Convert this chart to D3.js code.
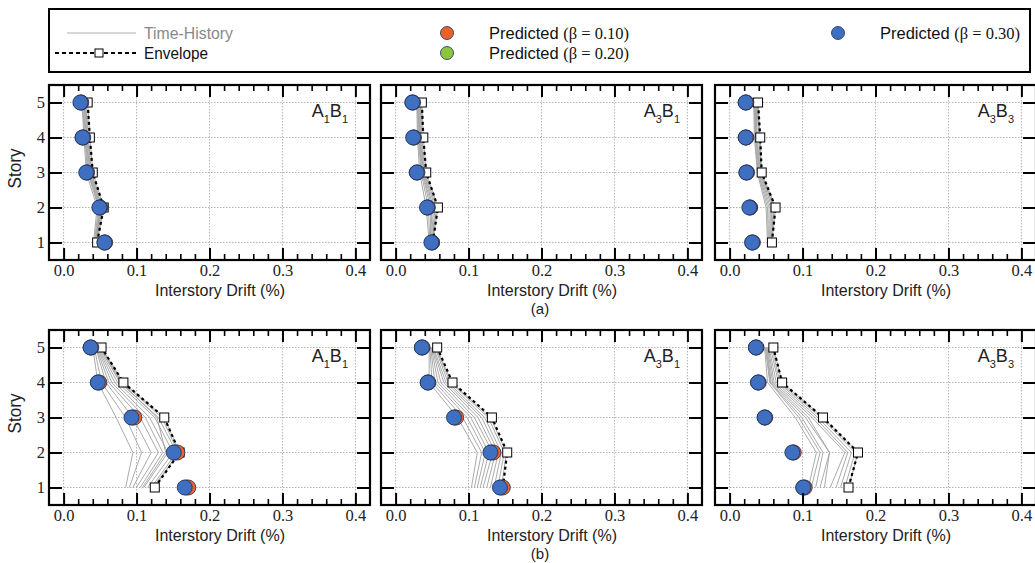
<!DOCTYPE html>
<html>
<head>
<meta charset="utf-8">
<script src="https://cdn.jsdelivr.net/npm/d3@7"></script>
<style>
  body { margin: 0; background: #fff; }
  svg { display: block; }
  .sans { font-family: "Liberation Sans", Arial, sans-serif; }
  .serif { font-family: "Liberation Serif", "Times New Roman", serif; }
</style>
</head>
<body>
<div id="chart"></div>
<script>
// story levels and axis ticks
var stories = [1, 2, 3, 4, 5]
var xTicks = [0.0, 0.1, 0.2, 0.3, 0.4]
var rowCaptions = ["(a)", "(b)"]
var panelLabels = [["A", "1", "B", "1"], ["A", "3", "B", "1"], ["A", "3", "B", "3"]]

// values per story (story 1 .. story 5)
// row (a)
var envA = [
  [0.046, 0.055, 0.040, 0.036, 0.033],
  [0.051, 0.058, 0.042, 0.038, 0.036],
  [0.058, 0.063, 0.044, 0.042, 0.039]
]
var pred10A = [
  [0.057, 0.050, 0.032, 0.027, 0.024],
  [0.050, 0.044, 0.030, 0.025, 0.024],
  [0.032, 0.028, 0.024, 0.023, 0.023]
]
var pred20A = [
  [0.056, 0.050, 0.032, 0.026, 0.024],
  [0.050, 0.044, 0.029, 0.025, 0.023],
  [0.031, 0.028, 0.023, 0.022, 0.022]
]
var pred30A = [
  [0.056, 0.049, 0.031, 0.026, 0.023],
  [0.049, 0.043, 0.029, 0.024, 0.023],
  [0.031, 0.027, 0.023, 0.022, 0.022]
]
var histA1 = [
  [0.041, 0.046, 0.031, 0.028, 0.025],
  [0.042, 0.048, 0.033, 0.029, 0.026],
  [0.043, 0.049, 0.034, 0.030, 0.027],
  [0.044, 0.050, 0.035, 0.031, 0.028],
  [0.044, 0.051, 0.036, 0.032, 0.029],
  [0.045, 0.052, 0.037, 0.033, 0.030],
  [0.045, 0.053, 0.038, 0.034, 0.031],
  [0.046, 0.055, 0.040, 0.036, 0.033]
]
var histA2 = [
  [0.046, 0.042, 0.033, 0.030, 0.029],
  [0.047, 0.045, 0.035, 0.031, 0.030],
  [0.048, 0.048, 0.036, 0.032, 0.031],
  [0.048, 0.050, 0.037, 0.033, 0.032],
  [0.049, 0.052, 0.038, 0.034, 0.033],
  [0.050, 0.054, 0.039, 0.035, 0.034],
  [0.050, 0.056, 0.040, 0.036, 0.035],
  [0.051, 0.058, 0.042, 0.038, 0.036]
]
var histA3 = [
  [0.052, 0.050, 0.038, 0.034, 0.033],
  [0.053, 0.052, 0.039, 0.035, 0.034],
  [0.054, 0.054, 0.040, 0.036, 0.035],
  [0.055, 0.056, 0.041, 0.037, 0.036],
  [0.056, 0.058, 0.042, 0.038, 0.036],
  [0.057, 0.060, 0.043, 0.040, 0.037],
  [0.057, 0.061, 0.043, 0.041, 0.038],
  [0.058, 0.063, 0.044, 0.042, 0.039]
]

// row (b)
var envB = [
  [0.125, 0.159, 0.138, 0.082, 0.052],
  [0.147, 0.153, 0.132, 0.078, 0.057],
  [0.163, 0.176, 0.128, 0.072, 0.060]
]
var pred10B = [
  [0.171, 0.156, 0.097, 0.049, 0.038],
  [0.147, 0.134, 0.083, 0.045, 0.037],
  [0.103, 0.088, 0.049, 0.040, 0.037]
]
var pred20B = [
  [0.168, 0.153, 0.094, 0.047, 0.037],
  [0.144, 0.131, 0.081, 0.044, 0.036],
  [0.101, 0.087, 0.048, 0.039, 0.036]
]
var pred30B = [
  [0.166, 0.151, 0.093, 0.047, 0.037],
  [0.143, 0.130, 0.080, 0.044, 0.036],
  [0.101, 0.086, 0.048, 0.039, 0.036]
]
var histB1 = [
  [0.085, 0.095, 0.072, 0.047, 0.040],
  [0.090, 0.107, 0.085, 0.052, 0.042],
  [0.095, 0.120, 0.095, 0.058, 0.044],
  [0.100, 0.130, 0.105, 0.062, 0.045],
  [0.105, 0.136, 0.112, 0.066, 0.046],
  [0.110, 0.143, 0.118, 0.070, 0.047],
  [0.115, 0.150, 0.125, 0.074, 0.048],
  [0.120, 0.155, 0.130, 0.077, 0.050],
  [0.125, 0.157, 0.135, 0.080, 0.051],
  [0.108, 0.140, 0.128, 0.079, 0.049],
  [0.122, 0.159, 0.138, 0.082, 0.052]
]
var histB2 = [
  [0.104, 0.112, 0.085, 0.046, 0.046],
  [0.108, 0.118, 0.092, 0.050, 0.047],
  [0.112, 0.123, 0.098, 0.054, 0.048],
  [0.116, 0.128, 0.103, 0.058, 0.049],
  [0.120, 0.133, 0.108, 0.062, 0.050],
  [0.125, 0.137, 0.113, 0.066, 0.051],
  [0.130, 0.141, 0.118, 0.069, 0.052],
  [0.135, 0.145, 0.122, 0.072, 0.054],
  [0.140, 0.149, 0.127, 0.075, 0.055],
  [0.145, 0.152, 0.130, 0.077, 0.056]
]
var histB3 = [
  [0.108, 0.119, 0.090, 0.052, 0.048],
  [0.112, 0.124, 0.095, 0.055, 0.049],
  [0.118, 0.128, 0.099, 0.056, 0.050],
  [0.124, 0.137, 0.104, 0.057, 0.051],
  [0.130, 0.137, 0.108, 0.059, 0.052],
  [0.138, 0.158, 0.113, 0.061, 0.053],
  [0.146, 0.162, 0.117, 0.064, 0.054],
  [0.152, 0.167, 0.121, 0.067, 0.056],
  [0.158, 0.172, 0.125, 0.069, 0.058],
  [0.163, 0.176, 0.128, 0.072, 0.060]
]

var rows = [
  { env: envA, p10: pred10A, p20: pred20A, p30: pred30A, hist: [histA1, histA2, histA3] },
  { env: envB, p10: pred10B, p20: pred20B, p30: pred30B, hist: [histB1, histB2, histB3] }
]

// colours
var colOrange = "#e8632b"
var colGreen = "#8cc63f"
var colBlue = "#3f6fc0"

// layout
var W = 1035, H = 563
var panelLeft = [49, 381, 715]
var panelW = 321
var rowTop = [85, 330]
var panelH = 175

var svg = d3.select("#chart").append("svg")
  .attr("width", W)
  .attr("height", H)

var x = d3.scaleLinear().domain([-0.02, 0.42]).range([0, panelW])
var y = d3.scaleLinear().domain([0.5, 5.5]).range([panelH, 0])
var minorTicks = d3.range(0, 0.41, 0.02).filter(function (t) { return Math.abs(t * 10 - Math.round(t * 10)) > 0.01 })

var line = d3.line()
  .x(function (d) { return x(d[1]) })
  .y(function (d) { return y(d[0]) })

function pairs(vals) {
  return stories.map(function (s, i) { return [s, vals[i]] })
}

rows.forEach(function (row, r) {
  panelLeft.forEach(function (px, c) {
    var g = svg.append("g").attr("transform", "translate(" + px + "," + rowTop[r] + ")")

    // dotted grid
    g.selectAll(".gx").data(xTicks).enter().append("line")
      .attr("x1", function (d) { return x(d) }).attr("x2", function (d) { return x(d) })
      .attr("y1", 0).attr("y2", panelH)
      .attr("stroke", "#b5b5b5").attr("stroke-width", 1).attr("stroke-dasharray", "1.5,1.5")
    g.selectAll(".gy").data(stories).enter().append("line")
      .attr("y1", function (d) { return y(d) }).attr("y2", function (d) { return y(d) })
      .attr("x1", 0).attr("x2", panelW)
      .attr("stroke", "#b5b5b5").attr("stroke-width", 1).attr("stroke-dasharray", "1.5,1.5")

    // time-history records
    g.selectAll(".th").data(row.hist[c]).enter().append("path")
      .attr("d", function (d) { return line(pairs(d)) })
      .attr("fill", "none").attr("stroke", "#a0a0a0").attr("stroke-width", 0.9)

    // envelope
    g.append("path")
      .attr("d", line(pairs(row.env[c])))
      .attr("fill", "none").attr("stroke", "#000").attr("stroke-width", 2.2)
      .attr("stroke-dasharray", "3,3")
    g.selectAll(".sq").data(pairs(row.env[c])).enter().append("rect")
      .attr("x", function (d) { return x(d[1]) - 4.5 })
      .attr("y", function (d) { return y(d[0]) - 4.5 })
      .attr("width", 9).attr("height", 9)
      .attr("fill", "#fff").attr("stroke", "#000").attr("stroke-width", 1)

    // predicted (green and orange sit under the blue markers)
    var preds = [[row.p20[c], colGreen], [row.p10[c], colOrange], [row.p30[c], colBlue]]
    preds.forEach(function (p) {
      g.selectAll(null).data(pairs(p[0])).enter().append("circle")
        .attr("cx", function (d) { return x(d[1]) })
        .attr("cy", function (d) { return y(d[0]) })
        .attr("r", 7.5)
        .attr("fill", p[1]).attr("stroke", "#1d2f55").attr("stroke-width", 0.8)
    })

    // ticks on all four sides, pointing inward
    var bottom = g.append("g").attr("transform", "translate(0," + panelH + ")")
      .call(d3.axisBottom(x).tickValues(xTicks).tickSize(-12).tickPadding(4).tickFormat(d3.format(".1f")))
    var bottomMinor = g.append("g").attr("transform", "translate(0," + panelH + ")")
      .call(d3.axisBottom(x).tickValues(minorTicks).tickSize(-6).tickFormat(""))
    var top = g.append("g").call(d3.axisTop(x).tickValues(xTicks).tickSize(-12).tickFormat(""))
    var topMinor = g.append("g").call(d3.axisTop(x).tickValues(minorTicks).tickSize(-6).tickFormat(""))
    var left = g.append("g")
      .call(d3.axisLeft(y).tickValues(stories).tickSize(-13).tickPadding(4).tickFormat(c === 0 ? d3.format("d") : ""))
    var right = g.append("g").attr("transform", "translate(" + panelW + ",0)")
      .call(d3.axisRight(y).tickValues(stories).tickSize(-13).tickFormat(""))

    ;[bottom, bottomMinor, top, topMinor, left, right].forEach(function (ax) {
      ax.select(".domain").remove()
      ax.selectAll(".tick line").attr("stroke", "#000").attr("stroke-width", 2)
      ax.selectAll(".tick text")
        .attr("class", "serif").attr("font-size", 16.5).attr("fill", "#222")
    })
    bottomMinor.selectAll(".tick line").attr("stroke-width", 1.6)
    topMinor.selectAll(".tick line").attr("stroke-width", 1.6)

    // frame
    g.append("rect")
      .attr("x", 0).attr("y", 0).attr("width", panelW).attr("height", panelH)
      .attr("fill", "none").attr("stroke", "#000").attr("stroke-width", 2.2)

    // panel label with subscripts
    var lab = g.append("text").attr("class", "sans")
      .attr("x", panelW - 22).attr("y", 32)
      .attr("text-anchor", "end").attr("font-size", 18).attr("fill", "#222")
    panelLabels[c].forEach(function (t, k) {
      var sub = k % 2 === 1
      lab.append("tspan")
        .attr("dy", sub ? 6 : (k === 0 ? 0 : -6))
        .attr("font-size", sub ? 11 : 18)
        .text(t)
    })

    // x axis title
    g.append("text").attr("class", "sans")
      .attr("x", 171).attr("y", panelH + 36)
      .attr("text-anchor", "middle").attr("font-size", 17).attr("fill", "#222")
      .attr("textLength", 130).attr("lengthAdjust", "spacingAndGlyphs")
      .text("Interstory Drift (%)")

    if (c === 0) {
      g.append("text").attr("class", "sans")
        .attr("transform", "translate(-28," + (panelH / 2 - 4) + ") rotate(-90)")
        .attr("text-anchor", "middle").attr("font-size", 17.5).attr("fill", "#222")
        .attr("textLength", 40).attr("lengthAdjust", "spacingAndGlyphs")
        .text("Story")
    }
  })

  svg.append("text").attr("class", "sans")
    .attr("x", 540).attr("y", rowTop[r] + panelH + 54)
    .attr("text-anchor", "middle").attr("font-size", 15).attr("fill", "#222")
    .text(rowCaptions[r])
})

// legend box
var leg = svg.append("g")
leg.append("rect")
  .attr("x", 49).attr("y", 9).attr("width", 981).attr("height", 63)
  .attr("fill", "#fff").attr("stroke", "#000").attr("stroke-width", 2)

leg.append("line").attr("x1", 67).attr("x2", 136).attr("y1", 33).attr("y2", 33)
  .attr("stroke", "#b0b0b0").attr("stroke-width", 1.2)
leg.append("text").attr("class", "sans").attr("x", 144).attr("y", 39)
  .attr("font-size", 16.5).attr("fill", "#888")
  .attr("textLength", 89).attr("lengthAdjust", "spacingAndGlyphs")
  .text("Time-History")

leg.append("line").attr("x1", 55).attr("x2", 136).attr("y1", 53).attr("y2", 53)
  .attr("stroke", "#000").attr("stroke-width", 2).attr("stroke-dasharray", "4,3")
leg.append("rect").attr("x", 95).attr("y", 49).attr("width", 8).attr("height", 8)
  .attr("fill", "#fff").attr("stroke", "#000").attr("stroke-width", 1)
leg.append("text").attr("class", "sans").attr("x", 144).attr("y", 59)
  .attr("font-size", 16.5).attr("fill", "#111")
  .attr("textLength", 64).attr("lengthAdjust", "spacingAndGlyphs")
  .text("Envelope")

var legPred = [
  { cx: 447, cy: 33, col: colOrange, beta: "0.10" },
  { cx: 447, cy: 53, col: colGreen, beta: "0.20" },
  { cx: 838, cy: 33, col: colBlue, beta: "0.30" }
]
legPred.forEach(function (d) {
  leg.append("circle").attr("cx", d.cx).attr("cy", d.cy).attr("r", 6.5)
    .attr("fill", d.col).attr("stroke", "#1d2f55").attr("stroke-width", 0.8)
  var t = leg.append("text").attr("x", d.cx + 42).attr("y", d.cy + 6)
    .attr("font-size", 16.5).attr("fill", "#111")
  t.append("tspan").attr("class", "sans").text("Predicted ")
  t.append("tspan").attr("class", "serif").text("(\u03b2 = " + d.beta + ")")
})
</script>
</body>
</html>
